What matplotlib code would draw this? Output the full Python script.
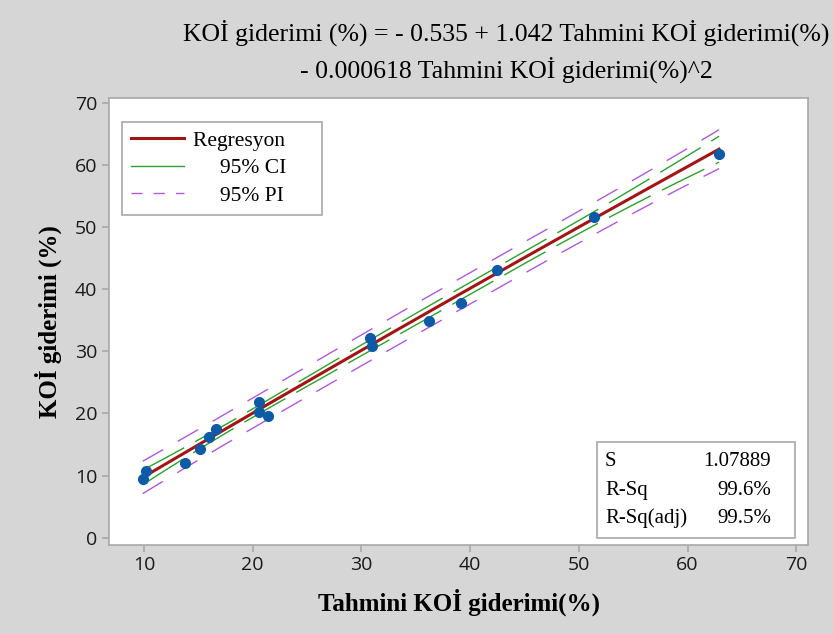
import numpy as np
import matplotlib
matplotlib.use("Agg")
import matplotlib.pyplot as plt
from matplotlib.patches import Rectangle

tahmini = [9.88, 10.18, 13.74, 15.15, 15.95, 16.62, 20.61, 20.61, 21.38,
           30.79, 31.0, 36.25, 39.16, 42.45, 51.40, 62.90]
koi = [9.50, 10.79, 12.03, 14.28, 16.17, 17.50, 21.90, 20.29, 19.60,
       32.11, 30.92, 34.90, 37.84, 43.11, 51.64, 61.84]

# Fitted model (from the chart's equation) and summary stats
coef = [-0.535, 1.042, -0.000618]
s_val = 1.07889
t_crit = 2.160  # t(0.975, n-3) with n = 16
stats_names = ["S", "R-Sq", "R-Sq(adj)"]
stats_vals = ["1.07889", "99.6%", "99.5%"]

serif = "Liberation Serif"
sans = "Open Sans"

x = np.array(tahmini)
X = np.column_stack([np.ones_like(x), x, x ** 2])
XtX_inv = np.linalg.inv(X.T @ X)

xs = np.linspace(x.min(), x.max(), 300)
Xs = np.column_stack([np.ones_like(xs), xs, xs ** 2])
fit = Xs @ np.array(coef)
lev = np.einsum("ij,jk,ik->i", Xs, XtX_inv, Xs)
ci = t_crit * s_val * np.sqrt(lev)
pi = t_crit * s_val * np.sqrt(1 + lev)

fig = plt.figure(figsize=(8.33, 6.34), dpi=100, facecolor="#d6d6d6")
ax = fig.add_axes([109 / 833, 1 - 544.5 / 634, 699 / 833, 446.5 / 634])
ax.set_facecolor("white")

green = "#2ca02c"
purple = "#b05ad6"
ax.plot(xs, fit + ci, color=green, lw=1.0, dashes=(34, 9))
ax.plot(xs, fit - ci, color=green, lw=1.0, dashes=(34, 9))
ax.plot(xs, fit + pi, color=purple, lw=1.0, dashes=(17, 12))
ax.plot(xs, fit - pi, color=purple, lw=1.0, dashes=(17, 12))
ax.plot(xs, fit, color="#a31515", lw=2.2, zorder=3)
ax.plot(x, koi, "o", color="#0d5aa7", ms=7, zorder=4)

ax.set_xlim(6.78, 71.08)
ax.set_ylim(-1.1, 70.8)
ax.set_xticks(range(10, 71, 10))
ax.set_yticks(range(0, 71, 10))
for sp in ax.spines.values():
    sp.set_color("#a8a8a8")
    sp.set_linewidth(1.2)
ax.tick_params(colors="#a8a8a8", labelcolor="#1a1a1a", length=5, width=1.2,
               labelsize=14)
for lab in ax.get_xticklabels() + ax.get_yticklabels():
    lab.set_family(sans)

ax.set_xlabel("Tahmini KOİ giderimi(%)", family=serif, fontsize=18,
              fontweight="bold", labelpad=10)
ax.set_ylabel("KOİ giderimi (%)", family=serif, fontsize=18,
              fontweight="bold", labelpad=9)

fig.text(506 / 833, 1 - 33 / 634,
         "KOİ giderimi (%) = - 0.535 + 1.042 Tahmini KOİ giderimi(%)",
         family=serif, fontsize=18.5, ha="center", va="center")
fig.text(506 / 833, 1 - 70 / 634,
         "- 0.000618 Tahmini KOİ giderimi(%)^2",
         family=serif, fontsize=18.5, ha="center", va="center")

# legend
h1, = ax.plot([], [], color="#a31515", lw=2.2)
h2, = ax.plot([], [], color=green, lw=1.0)
h3, = ax.plot([], [], color=purple, lw=1.0, dashes=(8, 8))
leg = ax.legend([h1, h2, h3],
                ["Regresyon     ", "     95% CI     ", "     95% PI     "],
                loc="upper left", bbox_to_anchor=(0.0186, 0.946),
                borderaxespad=0, fancybox=False, framealpha=1,
                edgecolor="#a8a8a8", handlelength=2.5, handletextpad=0.4,
                prop={"family": serif, "size": 15.5}, labelspacing=0.35,
                borderpad=0.4)
leg.get_frame().set_linewidth(1.2)

# stats box
ax.add_patch(Rectangle((0.698, 0.0146), 0.283, 0.215, transform=ax.transAxes,
                       facecolor="white", edgecolor="#a8a8a8", lw=1.2,
                       zorder=5))
rows_y = [0.185, 0.122, 0.059]
for name, val, yy in zip(stats_names, stats_vals, rows_y):
    ax.text(0.7096, yy, name, transform=ax.transAxes, family=serif,
            fontsize=15, va="center", ha="left", zorder=6)
    ax.text(0.9471, yy, val, transform=ax.transAxes, family=serif,
            fontsize=15, va="center", ha="right", zorder=6)

fig.savefig("out.png", dpi=100, facecolor=fig.get_facecolor())
